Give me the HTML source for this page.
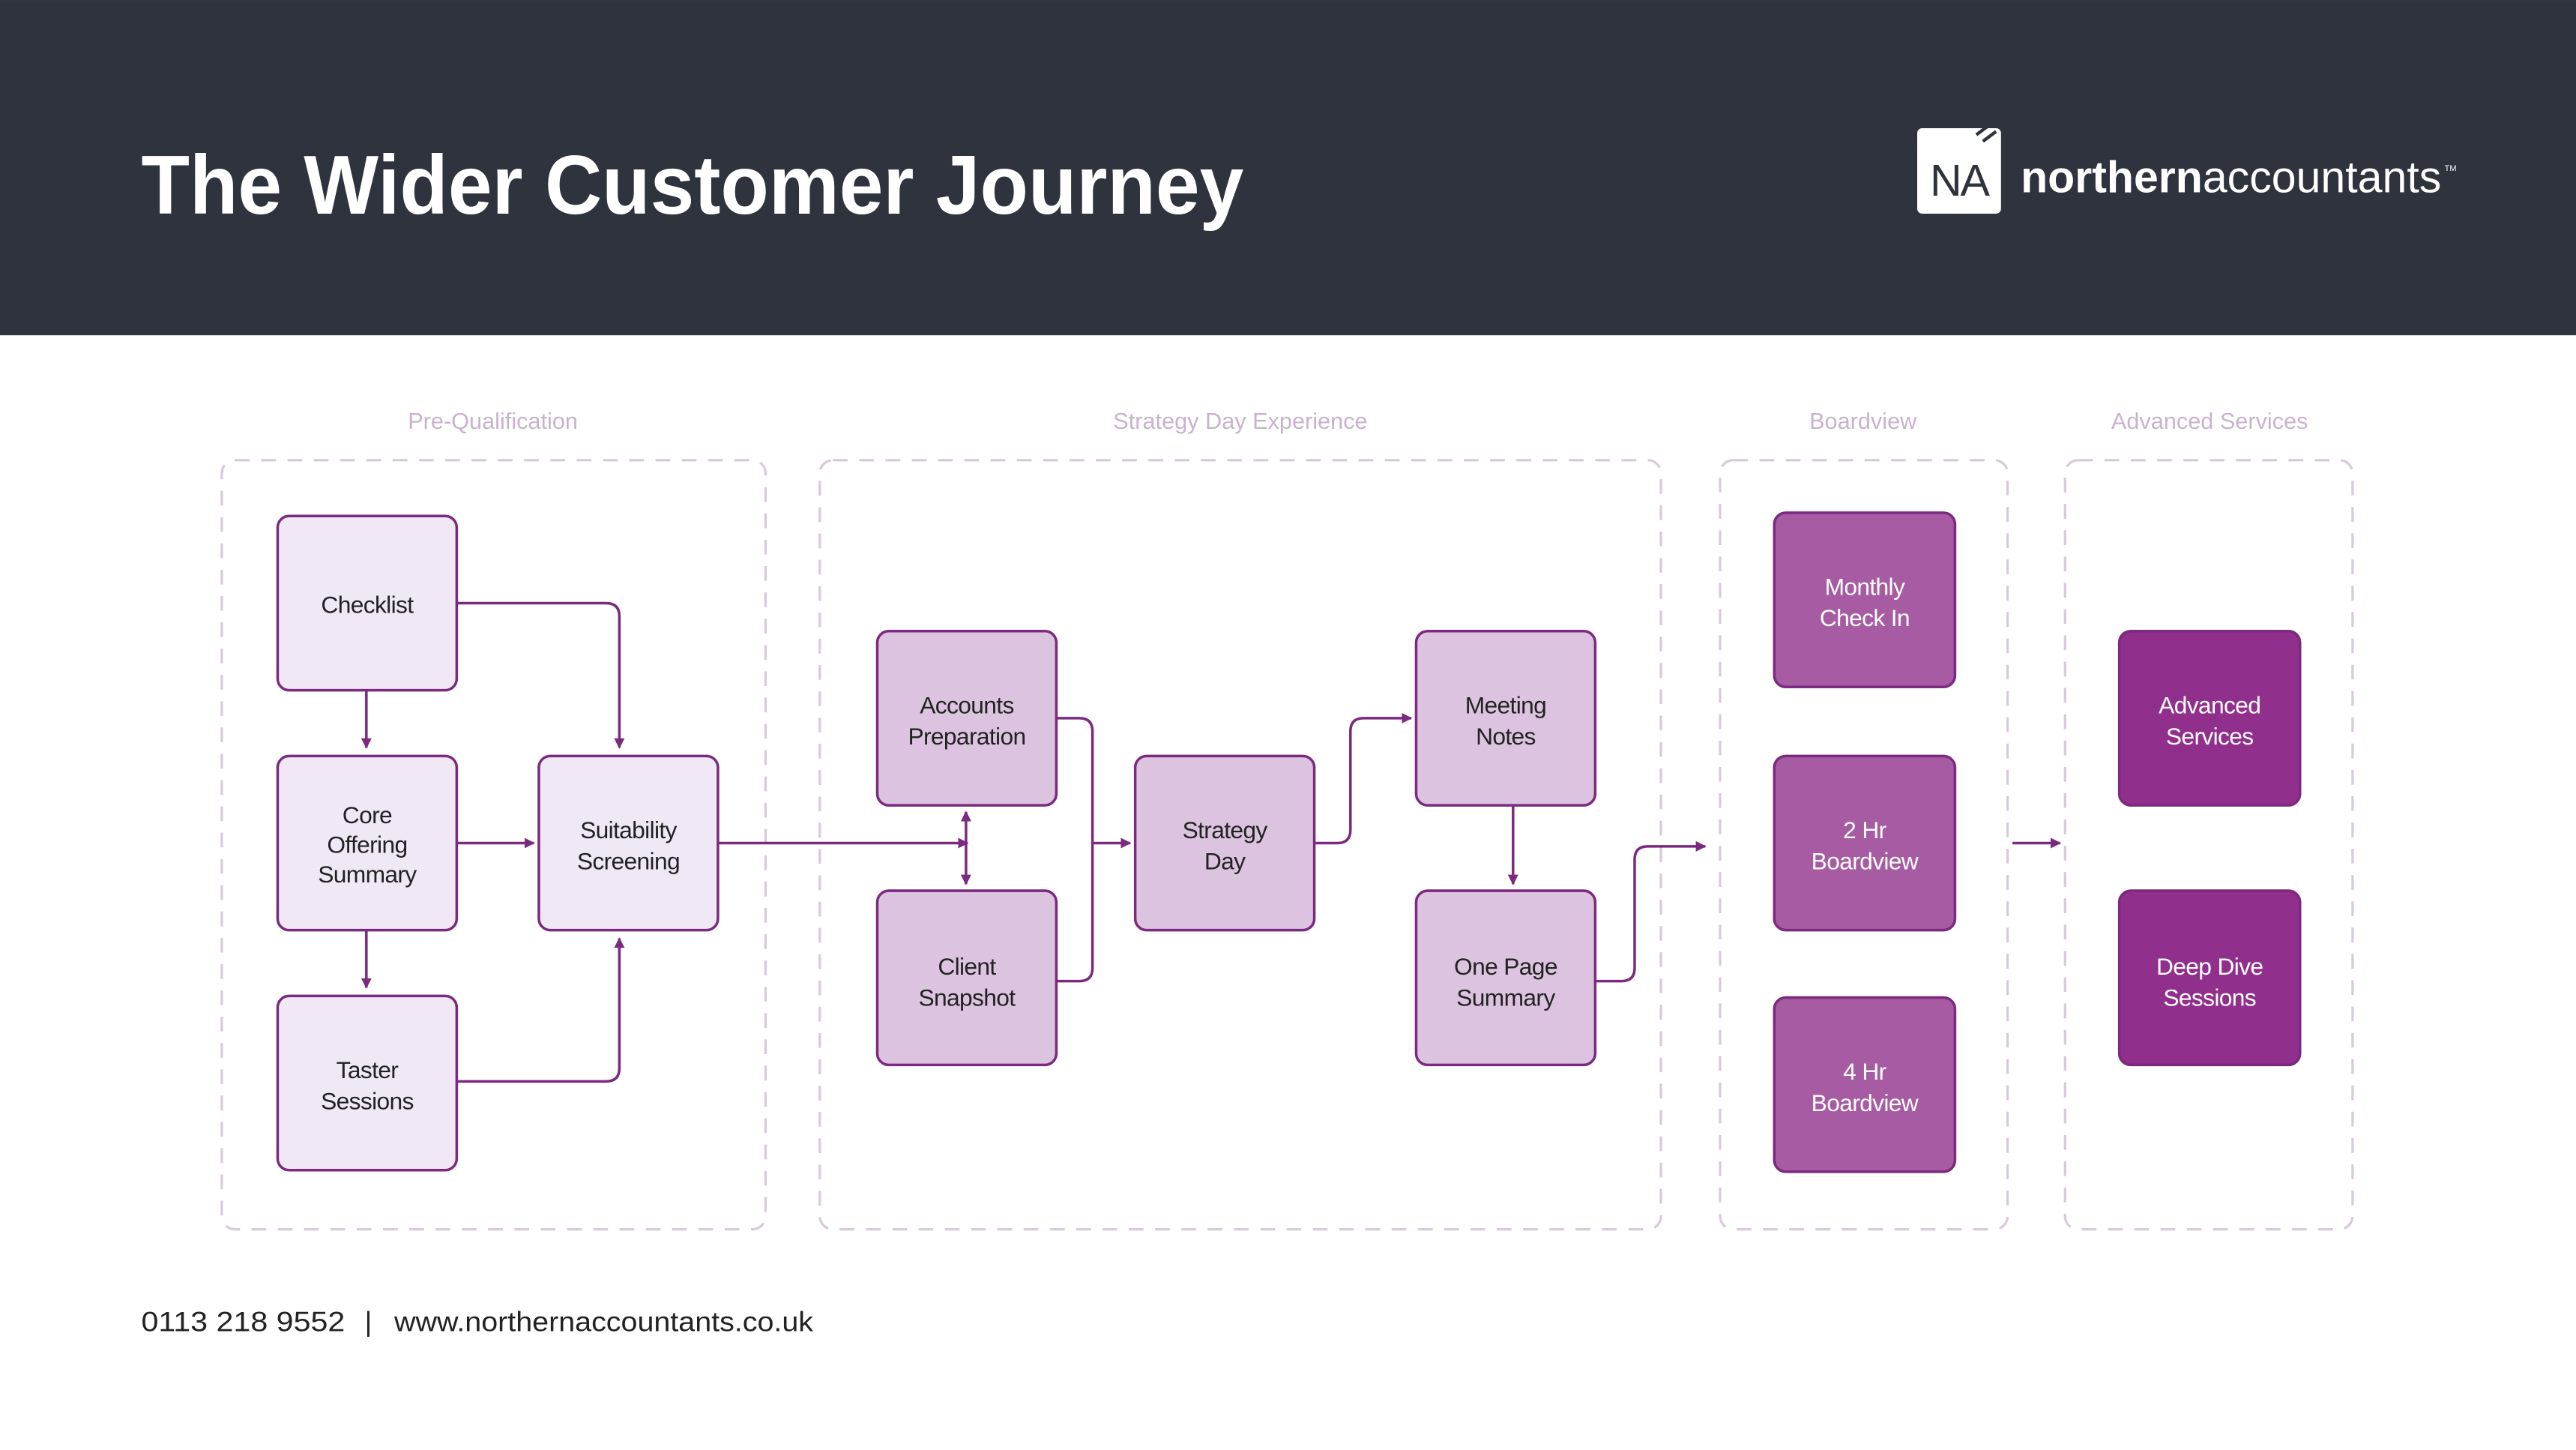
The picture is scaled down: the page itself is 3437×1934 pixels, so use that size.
<!DOCTYPE html>
<html><head><meta charset="utf-8"><style>
html,body{margin:0;padding:0;background:#fff;}
svg{display:block;}
text{font-family:"Liberation Sans",sans-serif;}
</style></head><body>
<svg width="3437" height="1934" viewBox="0 0 1568 882.3" xmlns="http://www.w3.org/2000/svg">
<defs>
<marker id="a" viewBox="0 0 10 10" refX="9" refY="5" markerWidth="4" markerHeight="4" orient="auto-start-reverse"><path d="M0,0L10,5L0,10z" fill="#7b2a7f"/></marker>
</defs>
<rect x="0" y="0" width="1568" height="204" fill="#2e333d"/>
<text x="86" y="130" font-size="51" font-weight="bold" fill="#fff" textLength="671" lengthAdjust="spacingAndGlyphs">The Wider Customer Journey</text>
<rect x="1167" y="78" width="51" height="52" rx="3" fill="#fff"/>
<path d="M1203,82l8,-6M1207,86l8,-6" stroke="#2e333d" stroke-width="2"/>
<text x="1192.5" y="119" font-size="27" fill="#2e333d" text-anchor="middle" letter-spacing="-1">NA</text>
<text x="1230" y="117" font-size="27" fill="#fff" textLength="256" lengthAdjust="spacingAndGlyphs"><tspan font-weight="bold">northern</tspan>accountants</text>
<text x="1488" y="104" font-size="5" fill="#fff">TM</text>

<g font-size="14" fill="#c9b3cc" text-anchor="middle">
<text x="300" y="261">Pre-Qualification</text>
<text x="755" y="261">Strategy Day Experience</text>
<text x="1134" y="261">Boardview</text>
<text x="1345" y="261">Advanced Services</text>
</g>
<g fill="none" stroke="#d9cadb" stroke-width="1.5" stroke-dasharray="9,7">
<rect x="135" y="280" width="331" height="468" rx="8"/>
<rect x="499" y="280" width="512" height="468" rx="8"/>
<rect x="1047" y="280" width="175" height="468" rx="8"/>
<rect x="1257" y="280" width="175" height="468" rx="8"/>
</g>

<g stroke="#7b2a7f" stroke-width="1.6">
<g fill="#f1e8f5">
<rect x="169" y="314" width="109" height="106" rx="7"/>
<rect x="169" y="460" width="109" height="106" rx="7"/>
<rect x="169" y="606" width="109" height="106" rx="7"/>
<rect x="328" y="460" width="109" height="106" rx="7"/>
</g>
<g fill="#dcc4e0">
<rect x="534" y="384" width="109" height="106" rx="7"/>
<rect x="534" y="542" width="109" height="106" rx="7"/>
<rect x="691" y="460" width="109" height="106" rx="7"/>
<rect x="862" y="384" width="109" height="106" rx="7"/>
<rect x="862" y="542" width="109" height="106" rx="7"/>
</g>
<g fill="#a65ba3">
<rect x="1080" y="312" width="110" height="106" rx="7"/>
<rect x="1080" y="460" width="110" height="106" rx="7"/>
<rect x="1080" y="607" width="110" height="106" rx="7"/>
</g>
<g fill="#912f8d">
<rect x="1290" y="384" width="110" height="106" rx="7"/>
<rect x="1290" y="542" width="110" height="106" rx="7"/>
</g>
</g>

<g fill="none" stroke="#7b2a7f" stroke-width="1.6">
<path d="M278,367H369Q377,367 377,375V455" marker-end="url(#a)"/>
<path d="M223,420V455" marker-end="url(#a)"/>
<path d="M278,513H325" marker-end="url(#a)"/>
<path d="M223,566V601" marker-end="url(#a)"/>
<path d="M278,658H369Q377,658 377,650V571" marker-end="url(#a)"/>
<path d="M437,513H589" marker-end="url(#a)"/>
<path d="M588,494V538" marker-start="url(#a)" marker-end="url(#a)"/>
<path d="M643,437H657Q665,437 665,445V589Q665,597 657,597H643"/>
<path d="M665,513H688" marker-end="url(#a)"/>
<path d="M800,513H814Q822,513 822,505V445Q822,437 830,437H859" marker-end="url(#a)"/>
<path d="M921,490V538" marker-end="url(#a)"/>
<path d="M971,597H987Q995,597 995,589V523Q995,515 1003,515H1038" marker-end="url(#a)"/>
<path d="M1225,513H1254" marker-end="url(#a)"/>
</g>

<g font-size="14.5" text-anchor="middle" fill="#222" letter-spacing="-0.3">
<text x="223.5" y="373">Checklist</text>
<text x="223.5" y="501">Core</text><text x="223.5" y="519">Offering</text><text x="223.5" y="537">Summary</text>
<text x="223.5" y="656">Taster</text><text x="223.5" y="675">Sessions</text>
<text x="382.5" y="510">Suitability</text><text x="382.5" y="529">Screening</text>
<text x="588.5" y="434">Accounts</text><text x="588.5" y="453">Preparation</text>
<text x="588.5" y="593">Client</text><text x="588.5" y="612">Snapshot</text>
<text x="745.5" y="510">Strategy</text><text x="745.5" y="529">Day</text>
<text x="916.5" y="434">Meeting</text><text x="916.5" y="453">Notes</text>
<text x="916.5" y="593">One Page</text><text x="916.5" y="612">Summary</text>
</g>
<g font-size="14.5" text-anchor="middle" fill="#fff" letter-spacing="-0.3">
<text x="1135" y="362">Monthly</text><text x="1135" y="381">Check In</text>
<text x="1135" y="510">2 Hr</text><text x="1135" y="529">Boardview</text>
<text x="1135" y="657">4 Hr</text><text x="1135" y="676">Boardview</text>
<text x="1345" y="434">Advanced</text><text x="1345" y="453">Services</text>
<text x="1345" y="593">Deep Dive</text><text x="1345" y="612">Sessions</text>
</g>

<text x="86" y="810" font-size="17" fill="#222" textLength="124" lengthAdjust="spacingAndGlyphs">0113 218 9552</text>
<text x="222" y="810" font-size="17" fill="#222">|</text>
<text x="240" y="810" font-size="17" fill="#222" textLength="255" lengthAdjust="spacingAndGlyphs">www.northernaccountants.co.uk</text>
</svg>
</body></html>
